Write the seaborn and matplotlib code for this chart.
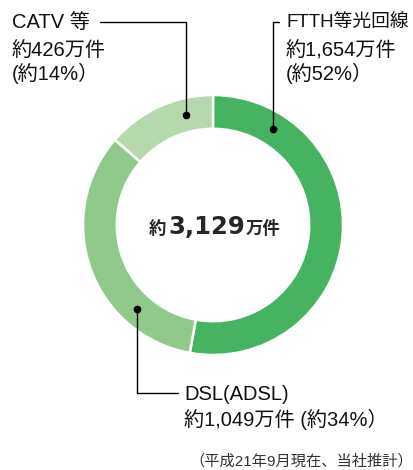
import numpy as np
import matplotlib
matplotlib.use('Agg')
import matplotlib.pyplot as plt
import seaborn as sns
from matplotlib.offsetbox import TextArea, HPacker, AnnotationBbox

# データ (万件)
categories = ['FTTH等光回線', 'DSL(ADSL)', 'CATV 等']
counts = [1654, 1049, 426]
shares = [52, 34, 14]
total = 3129
colors = ['#45b35f', '#8fca8b', '#b5d9ad']
note = '（平成21年9月現在、当社推計）'

sns.set_theme(style='white')
fam = ['Liberation Sans', 'Noto Sans CJK JP']
plt.rcParams['font.family'] = fam

W, H = 414, 470
fig = plt.figure(figsize=(W/100, H/100), dpi=100)

# ドーナツ
cx, cy, R = 213, 225, 130
ax = fig.add_axes([(cx-R)/W, (H-cy-R)/H, 2*R/W, 2*R/H])
ax.pie(counts, colors=sns.color_palette(colors), startangle=90, counterclock=False,
       wedgeprops=dict(width=0.26, edgecolor='white', linewidth=1.8))
ax.set_xlim(-1, 1)
ax.set_ylim(-1, 1)
ax.set_aspect('equal')
ax.axis('off')

# 注記用のオーバーレイ (ピクセル座標)
ov = fig.add_axes([0, 0, 1, 1])
ov.set_xlim(0, W)
ov.set_ylim(H, 0)
ov.axis('off')

def ring_pt(x):
    # リング中央の半径上で、指定 x の点
    r = 0.87 * R
    dx = x - cx
    return np.sqrt(r**2 - dx**2)

lw = 1.0
# CATV
x_c = 186
y_c = cy - ring_pt(x_c)
ov.plot([100, x_c, x_c], [22, 22, y_c], color='black', lw=lw)
ov.plot(x_c, y_c, 'o', color='black', ms=4.5)
# FTTH
x_f = 273
y_f = cy - ring_pt(x_f)
ov.plot([279, x_f, x_f], [22, 22, y_f], color='black', lw=lw)
ov.plot(x_f, y_f, 'o', color='black', ms=4.5)
# DSL
x_d = 137
y_d = cy + ring_pt(x_d)
ov.plot([178, x_d, x_d], [393, 393, y_d], color='black', lw=lw)
ov.plot(x_d, y_d, 'o', color='black', ms=4.5)

fs = 14.5
kw = dict(fontsize=fs, va='center', ha='left', color='#111111')
ov.text(12, 22, categories[2], **kw)
ov.text(12, 51, f'約{counts[2]:,}万件', **kw)
ov.text(12, 73, f'(約{shares[2]}%）', **kw)

ov.text(287, 22, categories[0], **{**kw, 'fontsize': 13.5})
ov.text(286, 51, f'約{counts[0]:,}万件', **kw)
ov.text(286, 73, f'(約{shares[0]}%）', **kw)

ov.text(184, 394, categories[1], **kw)
ov.text(184, 419, f'約{counts[1]:,}万件 (約{shares[1]}%）', **kw)

ov.text(413, 461, note, fontsize=11, va='center', ha='right', color='#333333')

# 中央の合計
parts = [
    TextArea('約', textprops=dict(fontsize=12.5, fontweight='bold', family=fam)),
    TextArea(f'{total:,}', textprops=dict(fontsize=17.5, fontweight='bold', family='DejaVu Sans')),
    TextArea('万件', textprops=dict(fontsize=12.5, fontweight='bold', family=fam)),
]
box = HPacker(children=parts, align='baseline', pad=0, sep=1)
ab = AnnotationBbox(box, (215, 227), xycoords='data', frameon=False, box_alignment=(0.5, 0.5))
ov.add_artist(ab)

fig.savefig('out.png', dpi=100)
